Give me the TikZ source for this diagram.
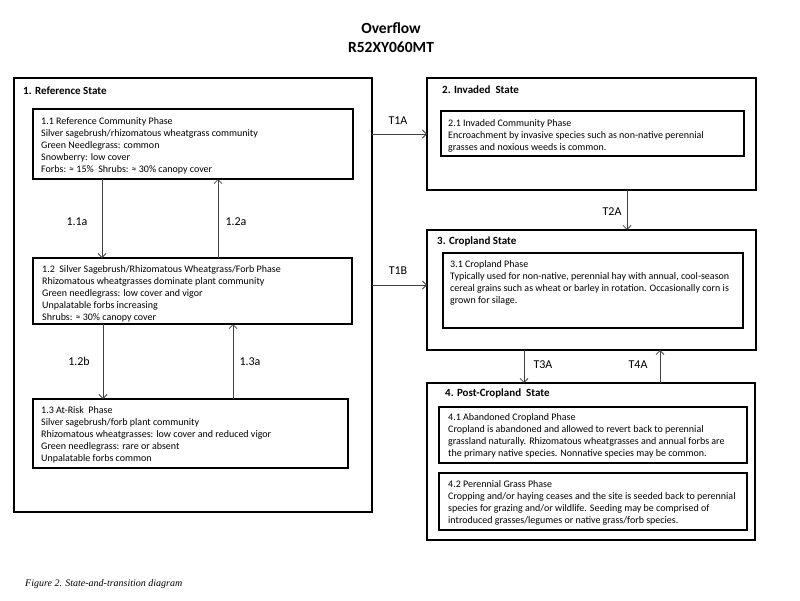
\documentclass[tikz,border=0pt]{standalone}
\usepackage{fontspec}
\setmainfont{Carlito}
\newfontfamily\capfont{Liberation Serif}
\usetikzlibrary{arrows.meta}
\tikzset{
  statebox/.style={draw=black, line width=1.9pt, anchor=north west, inner sep=0pt, outer sep=0pt},
  phasebox/.style={draw=black, line width=2.5pt, anchor=north west, inner sep=0pt, outer sep=0pt},
  txt/.style={anchor=north west, inner sep=0pt, align=left, font=\fontsize{10}{12}\selectfont},
  sttitle/.style={anchor=west, inner sep=0pt, font=\bfseries\fontsize{11}{13}\selectfont},
  lbl/.style={inner sep=0pt, font=\fontsize{12}{14}\selectfont},
  arr/.style={draw=black!75, line width=0.8pt, -{Straight Barb[length=4pt,width=8pt]}},
}
\begin{document}
\begin{tikzpicture}[x=1pt,y=-1pt]
\useasboundingbox (0,0) rectangle (800,600);
% title
\node[font=\bfseries\fontsize{15.5}{17}\selectfont] (title1) at (391,28) {Overflow};
\node[font=\bfseries\fontsize{15.5}{17}\selectfont] (title2) at (391,47) {R52XY060MT};
% states
\node[statebox, minimum width=358pt, minimum height=434pt] (s1) at (14,78) {};
\node[statebox, minimum width=329pt, minimum height=112pt] (s2) at (427,78) {};
\node[statebox, minimum width=329pt, minimum height=120pt] (s3) at (427,230) {};
\node[statebox, minimum width=328pt, minimum height=157pt] (s4) at (427,383) {};
\node[sttitle] (st1) at (23,91) {1. Reference State};
\node[sttitle] (st2) at (442,90) {2. Invaded\ \ State};
\node[sttitle] (st3) at (437,242) {3. Cropland State};
\node[sttitle] (st4) at (445,393) {4. Post-Cropland\ \ State};
% phases
\node[phasebox, minimum width=320pt, minimum height=70pt] (p11) at (33,109) {};
\node[phasebox, minimum width=319pt, minimum height=66pt] (p12) at (33,258) {};
\node[phasebox, minimum width=315pt, minimum height=69pt] (p13) at (33,399) {};
\node[phasebox, minimum width=303pt, minimum height=45pt] (p21) at (441,111) {};
\node[phasebox, minimum width=300pt, minimum height=75pt] (p31) at (443,253) {};
\node[phasebox, minimum width=308pt, minimum height=56pt] (p41) at (439,407) {};
\node[phasebox, minimum width=308pt, minimum height=57pt] (p42) at (439,473) {};
% phase texts
\node[txt] (t11) at (41,117) {1.1 Reference Community Phase\\Silver sagebrush/rhizomatous wheatgrass community\\Green Needlegrass: common\\Snowberry: low cover\\Forbs: ≈ 15\%\ \ Shrubs: ≈ 30\% canopy cover};
\node[txt] (t12) at (42,265) {1.2\ \ Silver Sagebrush/Rhizomatous Wheatgrass/Forb Phase\\Rhizomatous wheatgrasses dominate plant community\\Green needlegrass: low cover and vigor\\Unpalatable forbs increasing\\Shrubs: ≈ 30\% canopy cover};
\node[txt] (t13) at (41,406) {1.3 At-Risk\ \ Phase\\Silver sagebrush/forb plant community\\Rhizomatous wheatgrasses: low cover and reduced vigor\\Green needlegrass: rare or absent\\Unpalatable forbs common};
\node[txt] (t21) at (448,119) {2.1 Invaded Community Phase\\Encroachment by invasive species such as non-native perennial\\grasses and noxious weeds is common.};
\node[txt] (t31) at (450,260) {3.1 Cropland Phase\\Typically used for non-native, perennial hay with annual, cool-season\\cereal grains such as wheat or barley in rotation. Occasionally corn is\\grown for silage.};
\node[txt] (t41) at (448,413) {4.1 Abandoned Cropland Phase\\Cropland is abandoned and allowed to revert back to perennial\\grassland naturally. Rhizomatous wheatgrasses and annual forbs are\\the primary native species. Nonnative species may be common.};
\node[txt] (t42) at (448,480) {4.2 Perennial Grass Phase\\Cropping and/or haying ceases and the site is seeded back to perennial\\species for grazing and/or wildlife. Seeding may be comprised of\\introduced grasses/legumes or native grass/forb species.};
% within-state transitions
\draw[arr] ([xshift=69pt]p11.south west) -- ([xshift=69pt]p12.north west);
\draw[arr] ([xshift=185pt]p12.north west) -- ([xshift=185pt]p11.south west);
\draw[arr] ([xshift=70pt]p12.south west) -- ([xshift=70pt]p13.north west);
\draw[arr] ([xshift=200pt]p13.north west) -- ([xshift=200pt]p12.south west);
\node[lbl] (l11a) at (77,222) {1.1a};
\node[lbl] (l12a) at (236,222) {1.2a};
\node[lbl] (l12b) at (79,361) {1.2b};
\node[lbl] (l13a) at (250,362) {1.3a};
% state transitions
\draw[arr] (s2.west -| s1.east) -- (s2.west);
\draw[arr] ([yshift=5pt]s3.west -| s1.east) -- ([yshift=5pt]s3.west);
\draw[arr] ([xshift=200pt]s2.south west) -- ([xshift=200pt]s3.north west);
\draw[arr] ([xshift=97pt]s3.south west) -- ([xshift=97pt]s4.north west);
\draw[arr] ([xshift=233pt]s4.north west) -- ([xshift=233pt]s3.south west);
\node[lbl] (lt1a) at (398,121) {T1A};
\node[lbl] (lt1b) at (398,271) {T1B};
\node[lbl] (lt2a) at (612,212) {T2A};
\node[lbl] (lt3a) at (543,365) {T3A};
\node[lbl] (lt4a) at (638,365) {T4A};
% caption
\node[anchor=west, inner sep=0pt, font=\capfont\itshape\fontsize{10}{12}\selectfont] (cap) at (25,584) {Figure 2. State-and-transition diagram};
\end{tikzpicture}
\end{document}
